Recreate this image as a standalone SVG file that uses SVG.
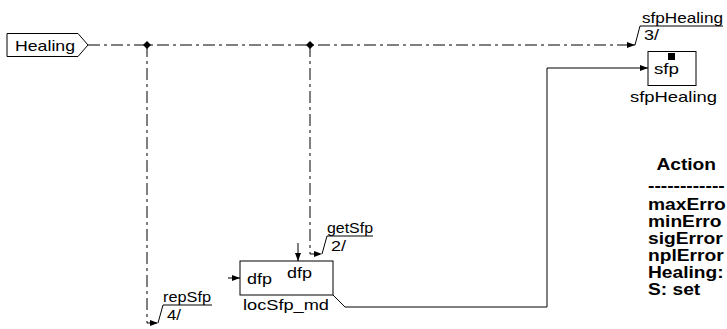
<svg xmlns="http://www.w3.org/2000/svg" width="727" height="329" viewBox="0 0 727 329">
<style>
.t{font-family:"Liberation Sans",Arial,sans-serif;font-size:15px;fill:#000}
.b{font-family:"Liberation Sans",Arial,sans-serif;font-size:16px;font-weight:bold;fill:#000}
.ln{fill:none;stroke:#000;stroke-width:1}
.dd{fill:none;stroke:#000;stroke-width:1;stroke-dasharray:12 4 3 4}
.bx{fill:#fff;stroke:#000;stroke-width:1}
</style>
<defs>
<marker id="ar" viewBox="0 0 8 6" refX="8" refY="3" markerWidth="8" markerHeight="6" markerUnits="userSpaceOnUse" orient="auto">
<path d="M0,0 L8,3 L0,6 z" fill="#000"/>
</marker>
</defs>
<rect width="727" height="329" fill="#fff"/>

<g id="connectors">
<path class="dd" d="M88,45 H635" marker-end="url(#ar)"/>
<path class="dd" d="M147,45 V323 H158" marker-end="url(#ar)"/>
<path class="dd" d="M310,45 V254 H322" marker-end="url(#ar)"/>
<path class="ln" d="M333,295 L345,307 H547 V68 H648" marker-end="url(#ar)"/>
<path class="ln" d="M228,278 H240" marker-end="url(#ar)"/>
<path class="ln" d="M298,243 V261" marker-end="url(#ar)"/>
<path d="M147,41 L151,45 L147,49 L143,45 z" fill="#000"/>
<path d="M310,41 L314,45 L310,49 L306,45 z" fill="#000"/>
</g>

<g id="port-Healing">
<polygon class="bx" points="7,33.5 78,33.5 88,45 78,56.5 7,56.5"/>
<text class="t" x="15" y="50.5" textLength="60" lengthAdjust="spacingAndGlyphs">Healing</text>
</g>

<g id="label-sfpHealing">
<path class="ln" d="M635,45 L640,26 H723"/>
<text class="t" x="642" y="23" textLength="81" lengthAdjust="spacingAndGlyphs">sfpHealing</text>
<text class="t" x="644" y="40" textLength="15" lengthAdjust="spacingAndGlyphs">3/</text>
</g>

<g id="label-getSfp">
<path class="ln" d="M322,254 L327,236 H373"/>
<text class="t" x="327" y="233" textLength="46" lengthAdjust="spacingAndGlyphs">getSfp</text>
<text class="t" x="331" y="251" textLength="15" lengthAdjust="spacingAndGlyphs">2/</text>
</g>

<g id="label-repSfp">
<path class="ln" d="M158,323 L163,305 H212"/>
<text class="t" x="163" y="302" textLength="48" lengthAdjust="spacingAndGlyphs">repSfp</text>
<text class="t" x="167" y="320" textLength="14" lengthAdjust="spacingAndGlyphs">4/</text>
</g>

<g id="node-locSfp_md">
<rect class="bx" x="240" y="261" width="93" height="34"/>
<text class="t" x="247" y="284" textLength="25" lengthAdjust="spacingAndGlyphs">dfp</text>
<text class="t" x="287" y="278" textLength="25" lengthAdjust="spacingAndGlyphs">dfp</text>
<text class="t" x="243" y="310" textLength="86" lengthAdjust="spacingAndGlyphs">locSfp_md</text>
</g>

<g id="node-sfpHealing">
<rect class="bx" x="648" y="51.5" width="48" height="34"/>
<rect x="668" y="53" width="7" height="7" fill="#000"/>
<text class="t" x="654" y="74" textLength="25" lengthAdjust="spacingAndGlyphs">sfp</text>
<text class="t" x="630" y="102" textLength="87" lengthAdjust="spacingAndGlyphs">sfpHealing</text>
</g>

<g id="legend" transform="translate(648,0) scale(1.2,1)">
<text class="b" x="7" y="170">Action</text>
<text class="b" x="0" y="191">------------</text>
<text class="b" x="0" y="210">maxErro</text>
<text class="b" x="0" y="227">minErro</text>
<text class="b" x="0" y="244">sigError</text>
<text class="b" x="0" y="261">nplError</text>
<text class="b" x="0" y="278">Healing:</text>
<text class="b" x="0" y="295">S: set</text>
</g>
</svg>
